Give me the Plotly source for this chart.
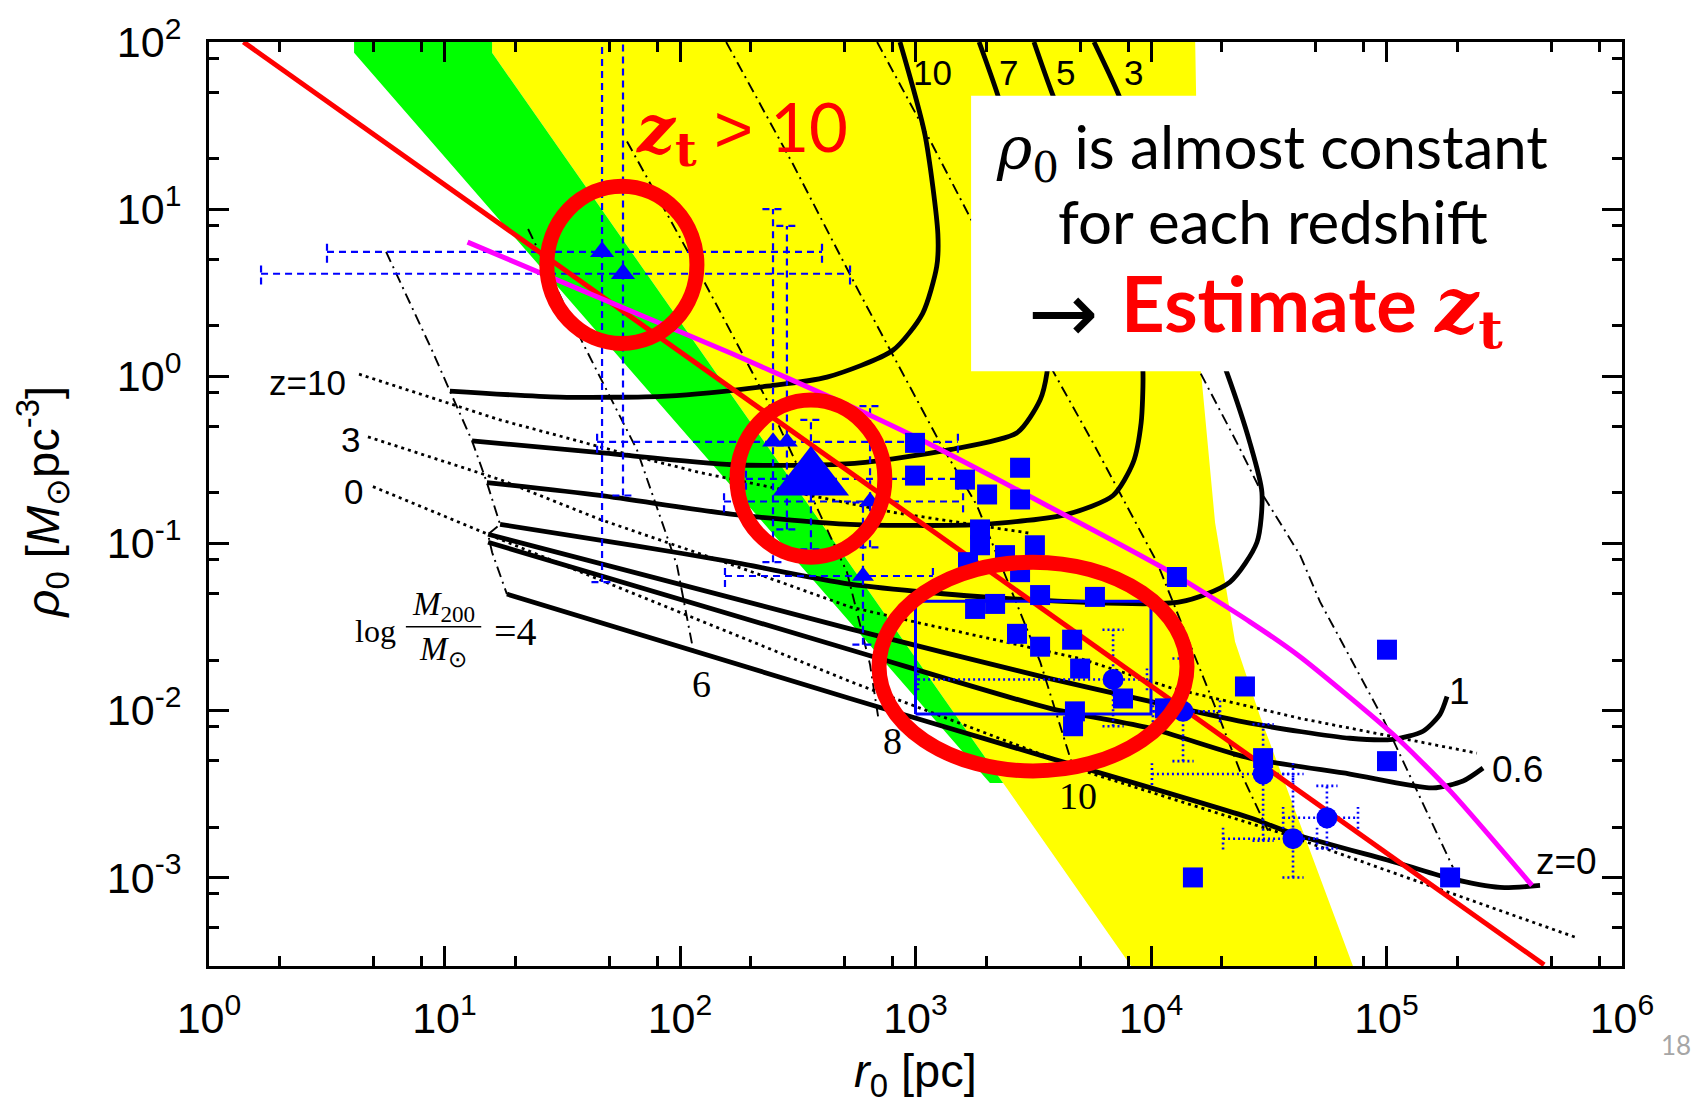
import numpy as np
import plotly.graph_objects as go

# ---------------------------------------------------------------------------
# Values are stored as log10(r0 / pc) and log10(rho0 / (Msun pc^-3)).
# ---------------------------------------------------------------------------

# shaded allowed regions
yellow_lr = [1.202, 4.187, 4.212, 4.272, 4.357, 4.463, 4.876, 3.950, 3.372, 1.202]
yellow_lrho = [2.05, 2.05, 0.030, -0.875, -1.589, -2.036, -3.60, -3.60, -2.435, 1.935]
green_lr = [0.616, 1.202, 1.202, 3.372, 3.316, 0.616]
green_lrho = [2.05, 2.05, 1.935, -2.435, -2.435, 1.935]

# constant truncation-redshift tracks (solid)
zt10_lr = [1.023, 1.490, 1.945, 2.369, 2.624, 2.904, 3.030, 3.090, 3.095, 3.040, 2.934]
zt10_lrho = [-0.089, -0.125, -0.119, -0.060, -0.006, 0.155, 0.375, 0.655, 0.851, 1.446, 2.0]
zt7_lr = [1.117, 1.660, 2.225, 2.722, 3.146, 3.431, 3.529, 3.558, 3.571, 3.529, 3.444, 3.350, 3.270]
zt7_lrho = [-0.387, -0.458, -0.530, -0.524, -0.440, -0.339, -0.143, 0.018, 0.315, 0.732, 1.208, 1.679, 2.0]
zt5_lr = [1.180, 1.660, 2.225, 2.722, 3.287, 3.643, 3.839, 3.924, 3.958, 3.966, 3.953, 3.890, 3.741, 3.584, 3.503]
zt5_lrho = [-0.637, -0.714, -0.827, -0.887, -0.887, -0.827, -0.714, -0.518, -0.280, 0.018, 0.256, 0.613, 1.149, 1.679, 2.0]
zt3_lr = [1.236, 1.800, 2.225, 2.722, 3.414, 4.123, 4.335, 4.450, 4.471, 4.420, 4.323, 4.208, 4.038, 3.864, 3.758]
zt3_lrho = [-0.887, -1.012, -1.113, -1.244, -1.333, -1.351, -1.232, -0.994, -0.696, -0.399, 0.018, 0.435, 1.030, 1.679, 2.0]
zt1_lr = [1.185, 2.722, 3.571, 3.996, 4.420, 4.845, 5.028, 5.155, 5.227, 5.257]
zt1_lrho = [-0.946, -1.512, -1.810, -1.946, -2.077, -2.167, -2.173, -2.125, -2.024, -1.917]
zt06_lr = [1.185, 2.722, 3.571, 3.996, 4.420, 4.845, 5.197, 5.325, 5.410]
zt06_lrho = [-0.994, -1.637, -1.988, -2.107, -2.286, -2.381, -2.464, -2.423, -2.345]
zt0_lr = [1.265, 2.722, 3.571, 4.420, 4.603, 5.057, 5.270, 5.482, 5.652]
zt0_lrho = [-1.304, -1.929, -2.286, -2.643, -2.738, -2.917, -3.006, -3.060, -3.048]

# constant halo-mass lines, log M200/Msun = 4, 6, 8, 10, 12, 14 (dash-dot)
m4_lr = [0.752, 0.947, 1.023, 1.117, 1.180, 1.236, 1.185, 1.202, 1.265]
m4_lrho = [0.744, 0.155, -0.089, -0.387, -0.637, -0.887, -0.946, -1.054, -1.304]
m6_lr = [1.355, 1.588, 1.817, 1.987, 2.055]
m6_lrho = [0.881, 0.196, -0.440, -1.131, -1.631]
m8_lr = [1.775, 2.085, 2.369, 2.709, 2.807, 2.841]
m8_lrho = [1.405, 0.613, -0.143, -1.173, -1.726, -2.036]
m10_lr = [2.196, 2.480, 2.764, 3.104, 3.261, 3.529, 3.677]
m10_lrho = [2.0, 1.268, 0.494, -0.399, -0.774, -1.708, -2.375]
m12_lr = [2.837, 3.049, 3.231, 3.584, 3.754, 4.025, 4.263, 4.378, 4.497]
m12_lrho = [2.0, 1.446, 0.952, 0.030, -0.399, -1.113, -1.946, -2.363, -2.720]
m14_lr = [4.166, 4.365, 4.476, 4.633, 4.718, 4.985, 5.282]
m14_lrho = [0.137, -0.399, -0.714, -1.071, -1.351, -2.048, -2.940]

# NFW-like reference tracks at z = 10, 3, 0 (dotted)
dz10_lr = [0.637, 1.236, 1.800, 2.085, 2.904, 3.486]
dz10_lrho = [0.012, -0.262, -0.476, -0.577, -0.815, -0.940]
dz3_lr = [0.675, 1.236, 1.660, 2.225, 2.722, 3.032, 3.699, 4.093, 4.633, 5.384]
dz3_lrho = [-0.363, -0.619, -0.857, -1.131, -1.381, -1.482, -1.690, -1.869, -2.048, -2.256]
dz0_lr = [0.696, 1.236, 2.722, 3.754, 4.561, 5.800]
dz0_lrho = [-0.661, -0.976, -1.827, -2.381, -2.738, -3.357]

# rho0 * r0 = const relation (red) and upper bound (magenta)
red_r = [1.4, 4.67e5]
red_rho = [100.0, 3.0e-4]
mag_lr = [1.098, 2.217, 2.722, 3.049, 4.068, 4.420, 4.633, 5.028, 5.270, 5.618]
mag_lrho = [0.802, 0.137, -0.179, -0.399, -1.161, -1.470, -1.679, -2.143, -2.482, -3.048]

# observed systems: squares
sq_lr = [2.998, 2.998, 3.210, 3.304, 3.444, 3.444, 3.274, 3.274, 3.223, 3.380, 3.507,
         3.444, 3.253, 3.338, 3.529, 3.762, 3.431, 3.529, 3.665, 3.699, 3.881, 3.677,
         3.669, 4.110, 4.399, 4.476, 5.002, 5.002, 5.270, 4.178, 4.059]
sq_lrho = [-0.399, -0.595, -0.619, -0.708, -0.548, -0.738, -0.917, -1.012, -1.113, -1.071, -1.012,
           -1.173, -1.393, -1.363, -1.310, -1.321, -1.542, -1.619, -1.577, -1.750, -1.929, -2.006,
           -2.095, -1.202, -1.857, -2.286, -1.637, -2.304, -3.000, -3.000, -1.988]

# circles with dotted error bars
ci_lr = [3.839, 4.136, 4.476, 4.603, 4.747]
ci_lrho = [-1.815, -2.006, -2.381, -2.768, -2.643]
ci_xlo = [3.011, 4.008, 4.004, 4.306, 4.561]
ci_xhi = [3.983, 4.293, 4.603, 4.705, 4.879]
ci_ylo = [-2.095, -2.304, -2.780, -3.000, -2.827]
ci_yhi = [-1.518, -1.690, -2.083, -2.381, -2.452]

# triangles with dashed error bars
tr_lr = [1.669, 1.758, 2.395, 2.454, 2.556, 2.807, 2.777]
tr_lrho = [0.744, 0.613, -0.393, -0.393, -0.615, -0.750, -1.196]
tr_size = [21, 21, 19, 19, 66, 19, 19]
tr_xlo = [0.501, 0.221, 1.648, None, 2.280, 2.187, 2.191]
tr_xhi = [2.603, 2.722, 3.180, None, 3.180, 3.202, 3.074]
tr_ylo = [-1.232, -0.714, -1.113, -0.917, -1.036, -1.024, -1.607]
tr_yhi = [2.300, 2.300, 1.000, 0.899, -0.262, -0.179, -0.756]

# sample range box
box_r = [1.0e3, 1.0e4]
box_rho = [0.0095, 0.045]

# highlighted regions (r0 range, rho0 range)
ring_a_r, ring_a_rho = [27.2, 118.0], [1.57, 13.7]
ring_b_r, ring_b_rho = [174.6, 741.0], [0.0826, 0.719]
ring_c_r, ring_c_rho = [700.0, 14220.0], [0.00434, 0.0771]

x_tick_vals = [1, 10, 100, 1e3, 1e4, 1e5, 1e6]
x_tick_text = ["10<sup>%d</sup>" % k for k in range(0, 7)]
y_tick_vals = [1e-3, 1e-2, 1e-1, 1, 10, 100]
y_tick_text = ["10<sup>%d</sup>" % k for k in range(-3, 3)]

# ---------------------------------------------------------------------------
BLUE = "#0000ff"
RED = "#ff0000"


def pw(a):
    return [None if v is None else 10.0 ** v for v in a]


fig = go.Figure()


def add_line(lr, lrho, line, **kw):
    fig.add_trace(go.Scatter(x=pw(lr), y=pw(lrho), mode="lines", line=line,
                             hoverinfo="skip", showlegend=False, **kw))


# shaded regions
add_line(yellow_lr, yellow_lrho, dict(width=0), fill="toself", fillcolor="#ffff00")
add_line(green_lr, green_lrho, dict(width=0), fill="toself", fillcolor="#00ff00")

# halo-mass lines
dashdot = dict(color="black", width=1.9, dash="11px,5px,2px,5px")
for lr, lrho in [(m4_lr, m4_lrho), (m6_lr, m6_lrho), (m8_lr, m8_lrho),
                 (m10_lr, m10_lrho), (m12_lr, m12_lrho), (m14_lr, m14_lrho)]:
    add_line(lr, lrho, dashdot)

# dotted reference tracks
dotted = dict(color="black", width=2.8, dash="3px,4px")
for lr, lrho in [(dz10_lr, dz10_lrho), (dz3_lr, dz3_lrho), (dz0_lr, dz0_lrho)]:
    add_line(lr, lrho, dotted)

# truncation-redshift tracks
solid = dict(color="black", width=4.8, shape="spline", smoothing=0.7)
for lr, lrho in [(zt10_lr, zt10_lrho), (zt7_lr, zt7_lrho), (zt5_lr, zt5_lrho),
                 (zt3_lr, zt3_lrho), (zt1_lr, zt1_lrho), (zt06_lr, zt06_lrho),
                 (zt0_lr, zt0_lrho)]:
    add_line(lr, lrho, solid)


def err_segments(lr, lrho, xlo, xhi, ylo, yhi, capx=0.045, capy=0.065):
    xs, ys = [], []
    for x, y, a, b, c, d in zip(lr, lrho, xlo, xhi, ylo, yhi):
        if a is not None:
            xs += [a, b, None, a, a, None, b, b, None]
            ys += [y, y, None, y - capy, y + capy, None, y - capy, y + capy, None]
        if c is not None:
            xs += [x, x, None, x - capx, x + capx, None, x - capx, x + capx, None]
            ys += [c, d, None, c, c, None, d, d, None]
    return xs, ys


ex, ey = err_segments(tr_lr, tr_lrho, tr_xlo, tr_xhi, tr_ylo, tr_yhi)
add_line(ex, ey, dict(color=BLUE, width=2.2, dash="7px,5px"))
ex, ey = err_segments(ci_lr, ci_lrho, ci_xlo, ci_xhi, ci_ylo, ci_yhi)
add_line(ex, ey, dict(color=BLUE, width=2.6, dash="2px,3px"))

# sample range box
fig.add_trace(go.Scatter(x=[box_r[0], box_r[1], box_r[1], box_r[0], box_r[0]],
                         y=[box_rho[0], box_rho[0], box_rho[1], box_rho[1], box_rho[0]],
                         mode="lines", line=dict(color=BLUE, width=3),
                         hoverinfo="skip", showlegend=False))

# relations
fig.add_trace(go.Scatter(x=red_r, y=red_rho, mode="lines", line=dict(color=RED, width=5),
                         hoverinfo="skip", showlegend=False))
add_line(mag_lr, mag_lrho, dict(color="#ff00ff", width=5, shape="spline", smoothing=0.6))

# data points
fig.add_trace(go.Scatter(x=pw(sq_lr), y=pw(sq_lrho), mode="markers",
                         marker=dict(symbol="square", size=20, color=BLUE, line=dict(width=0)),
                         hoverinfo="skip", showlegend=False))
fig.add_trace(go.Scatter(x=pw(ci_lr), y=pw(ci_lrho), mode="markers",
                         marker=dict(symbol="circle", size=21, color=BLUE, line=dict(width=0)),
                         hoverinfo="skip", showlegend=False))
fig.add_trace(go.Scatter(x=pw(tr_lr), y=pw(tr_lrho), mode="markers",
                         marker=dict(symbol="triangle-up", size=tr_size, color=BLUE,
                                     opacity=1, line=dict(width=0)),
                         hoverinfo="skip", showlegend=False))

# ---------------------------------------------------------------------------
shapes = []
# white text panel
shapes.append(dict(type="rect", xref="x", yref="y", x0=10 ** 3.236, x1=10 ** 5.843,
                   y0=10 ** 0.030, y1=10 ** 1.679, fillcolor="white",
                   line=dict(width=0), layer="above"))
for rr, rh in [(ring_a_r, ring_a_rho), (ring_b_r, ring_b_rho), (ring_c_r, ring_c_rho)]:
    shapes.append(dict(type="circle", xref="x", yref="y", x0=rr[0], x1=rr[1],
                       y0=rh[0], y1=rh[1], line=dict(color=RED, width=15), layer="above"))
# fraction bar of the mass label
shapes.append(dict(type="line", xref="x", yref="y", x0=10 ** 0.836, x1=10 ** 1.156,
                   y0=10 ** -1.5, y1=10 ** -1.5, line=dict(color="black", width=1.6)))

SANS = "Liberation Sans"
SERIF = "Liberation Serif"
ann = []


def label(lx, ly, text, size, family=SANS, color="black", xanchor="center", yanchor="middle"):
    ann.append(dict(x=lx, y=ly, xref="x", yref="y", text=text, showarrow=False,
                    font=dict(family=family, size=size, color=color),
                    xanchor=xanchor, yanchor=yanchor))


# track labels
label(3.074, 1.815, "10", 35)
label(3.393, 1.815, "7", 35)
label(3.639, 1.815, "5", 35)
label(3.924, 1.815, "3", 35)
label(5.312, -1.887, "1", 37)
label(5.558, -2.351, "0.6", 37)
label(5.766, -2.905, "z=0", 37)
label(0.590, -0.036, "z=10", 35, xanchor="right")
label(0.650, -0.381, "3", 35, xanchor="right")
label(0.662, -0.690, "0", 35, xanchor="right")
# mass labels
label(2.093, -1.845, "6", 38, family=SERIF)
label(2.904, -2.185, "8", 38, family=SERIF)
label(3.690, -2.512, "10", 38, family=SERIF)
label(0.705, -1.524, "log", 32, family=SERIF)
label(0.996, -1.378, "<i>M</i><sub>200</sub>", 33, family=SERIF)
label(0.994, -1.645, "<i>M</i><sub>⊙</sub>", 33, family=SERIF)
label(1.300, -1.530, "=4", 40, family=SERIF)

# commentary
MATH = "<span style=\"font-family:'DejaVu Serif'\">"
GT = "<span style=\"font-family:'Liberation Sans'\">&gt;</span>"
label(1.805, 1.462, "<b><i>" + MATH + "z</span></i></b><sub><b>" + MATH +
      "t</span></b></sub> " + GT + " 10", 67, family="Lato", color=RED, xanchor="left")
label(4.512, 1.345, MATH + "<i>ρ</i><sub>0</sub></span> is almost constant", 60, family="Lato")
label(4.518, 0.929, "for each redshift", 60, family="Lato")
label(3.628, 0.380, "→", 84, family="DejaVu Sans")
label(3.866, 0.400, "<b>Estimate </b><b><i>" + MATH + "z</span></i></b><sub><b>" +
      MATH + "t</span></b></sub>", 76, family="Lato", color=RED, xanchor="left")

# axis titles and slide number
ann.append(dict(x=0.5, y=-0.117, xref="paper", yref="paper", showarrow=False,
                text="<i>r</i><sub>0</sub> [pc]", font=dict(family=SANS, size=47, color="black"),
                xanchor="center", yanchor="middle"))
ann.append(dict(x=-0.118, y=0.502, xref="paper", yref="paper", showarrow=False, textangle=-90,
                text="<i>ρ</i><sub>0</sub> [<i>M</i><sub>⊙</sub>pc<sup>-3</sup>]",
                font=dict(family=SANS, size=47, color="black"),
                xanchor="center", yanchor="middle"))
ann.append(dict(x=1.038, y=-0.085, xref="paper", yref="paper", showarrow=False,
                text="18", font=dict(family="Lato", size=26, color="#a6a6a6"),
                xanchor="center", yanchor="middle"))

x_minor = [m * 10 ** k for k in range(0, 6) for m in (2, 5, 8)]
y_minor = [m * 10 ** k for k in range(-4, 2) for m in (2, 5, 8)]

axis_common = dict(type="log", showgrid=False, zeroline=False, showline=True,
                   linecolor="black", linewidth=3, mirror="allticks", ticks="inside",
                   ticklen=20, tickwidth=3, tickcolor="black", tickmode="array",
                   tickfont=dict(family=SANS, size=43, color="black"))

fig.update_layout(
    width=1707, height=1113,
    margin=dict(l=209, r=85, t=37, b=147),
    paper_bgcolor="white", plot_bgcolor="white",
    showlegend=False, hovermode=False,
    xaxis=dict(range=[0, 6], tickvals=x_tick_vals, ticktext=x_tick_text,
               ticklabelstandoff=12,
               minor=dict(tickmode="array", tickvals=x_minor, ticks="inside",
                          ticklen=10, tickwidth=3, tickcolor="black"),
               **axis_common),
    yaxis=dict(range=[-3.53, 2], tickvals=y_tick_vals, ticktext=y_tick_text,
               ticklabelstandoff=16,
               minor=dict(tickmode="array", tickvals=y_minor, ticks="inside",
                          ticklen=10, tickwidth=3, tickcolor="black"),
               **axis_common),
    shapes=shapes,
    annotations=ann,
)

fig.write_html("out.html")
